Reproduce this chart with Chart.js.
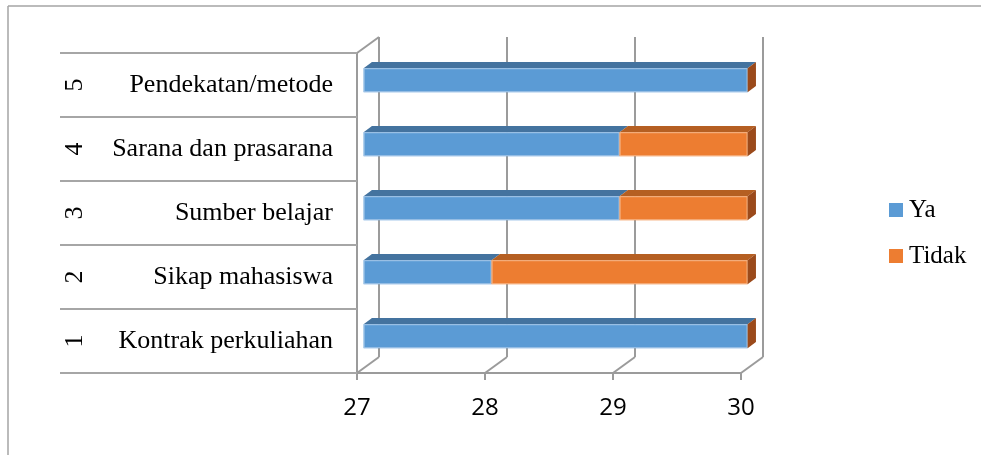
<!DOCTYPE html>
<html>
<head>
	<meta charset="utf-8">
	<title>Ya / Tidak</title>
	<style>
		body { margin: 0; background: #ffffff; }
		#wrap { width: 981px; height: 455px; position: relative; }
	</style>
</head>
<body>
	<div id="wrap">
		<canvas id="barChart" width="981" height="455"></canvas>
	</div>

	<script src="https://cdn.jsdelivr.net/npm/chart.js@4.4.0/dist/chart.umd.min.js"></script>
	<script type="text/javascript">
		// data, bottom row first (as in the sheet)
		const nomor = ['1', '2', '3', '4', '5'];
		const aspek = ['Kontrak perkuliahan', 'Sikap mahasiswa', 'Sumber belajar', 'Sarana dan prasarana', 'Pendekatan/metode'];
		const ya = [30, 28, 29, 29, 30];
		const tidak = [0, 2, 1, 1, 0];
		const xTicks = [27, 28, 29, 30];

		const serif = '"Liberation Serif", "DejaVu Serif", serif';
		const gray = '#9b9b9b';

		// 3d look: wall depth and where the bars sit in it
		const wallDx = 22, wallDy = -16;
		const barFront = 0.3, barBack = 0.68;

		const faces = [
			{ front: '#5b9bd5', top: '#44739f', side: '#3d6791', edge: '#a4c6e8' },
			{ front: '#ed7d31', top: '#b55f22', side: '#9b4a1b', edge: '#f5b587' }
		];

		function line(ctx, x1, y1, x2, y2, color, w) {
			ctx.beginPath();
			ctx.moveTo(x1, y1);
			ctx.lineTo(x2, y2);
			ctx.strokeStyle = color;
			ctx.lineWidth = w;
			ctx.stroke();
		}

		function poly(ctx, pts, color) {
			ctx.beginPath();
			ctx.moveTo(pts[0][0], pts[0][1]);
			for (let i = 1; i < pts.length; i++) ctx.lineTo(pts[i][0], pts[i][1]);
			ctx.closePath();
			ctx.fillStyle = color;
			ctx.fill();
		}

		const frame3d = {
			id: 'frame3d',
			beforeDatasetsDraw(chart) {
				const ctx = chart.ctx;
				const a = chart.chartArea;
				const xs = chart.scales.x;
				const ys = chart.scales.y;
				ctx.save();

				// outer frame (only top and left show)
				line(ctx, 8, 6, 981, 6, '#a5a5a5', 1.5);
				line(ctx, 8, 6, 8, 455, '#a5a5a5', 1.5);

				// back wall grid + floor diagonals
				xTicks.forEach(v => {
					const px = xs.getPixelForValue(v);
					line(ctx, px + wallDx, a.top + wallDy, px + wallDx, a.bottom + wallDy, gray, 2);
					line(ctx, px, a.bottom, px + wallDx, a.bottom + wallDy, gray, 2);
					line(ctx, px, a.bottom, px, a.bottom + 7, gray, 2);
				});
				// left wall
				line(ctx, a.left, a.top, a.left, a.bottom, gray, 2);
				line(ctx, a.left, a.top, a.left + wallDx, a.top + wallDy, gray, 2);
				// floor front edge
				line(ctx, a.left, a.bottom, a.right, a.bottom, gray, 2);

				// category rows and rotated numbers
				const step = Math.abs(ys.getPixelForValue(1) - ys.getPixelForValue(0));
				for (let i = 0; i < nomor.length; i++) {
					const cy = ys.getPixelForValue(i);
					line(ctx, 60, cy - step / 2, a.left, cy - step / 2, '#a6a6a6', 2);
					line(ctx, 60, cy + step / 2, a.left, cy + step / 2, '#a6a6a6', 2);
					ctx.save();
					ctx.translate(75, cy);
					ctx.rotate(-Math.PI / 2);
					ctx.font = '26px ' + serif;
					ctx.fillStyle = '#000000';
					ctx.textAlign = 'center';
					ctx.textBaseline = 'middle';
					ctx.fillText(nomor[i], 0, 0);
					ctx.restore();
				}

				// bars drawn as boxes from the bar elements
				const fx = wallDx * barFront, fy = wallDy * barFront;
				const bx = wallDx * barBack, by = wallDy * barBack;
				for (let i = 0; i < aspek.length; i++) {
					chart.data.datasets.forEach((ds, d) => {
						const el = chart.getDatasetMeta(d).data[i];
						const left = Math.max(Math.min(el.x, el.base), a.left);
						const right = Math.max(el.x, el.base);
						const top = el.y - el.height / 2;
						const bottom = el.y + el.height / 2;
						const f = faces[d];
						poly(ctx, [[left + fx, top + fy], [right + fx, top + fy], [right + bx, top + by], [left + bx, top + by]], f.top);
						if (right > left) {
							ctx.fillStyle = f.front;
							ctx.fillRect(left + fx, top + fy, right - left, bottom - top);
							ctx.strokeStyle = f.edge;
							ctx.lineWidth = 1;
							ctx.strokeRect(left + fx + 0.5, top + fy + 0.5, right - left - 1, bottom - top - 1);
						}
						if (d === chart.data.datasets.length - 1) {
							poly(ctx, [[right + fx, top + fy], [right + bx, top + by], [right + bx, bottom + by], [right + fx, bottom + fy]], f.side);
						}
					});
				}

				// legend
				ctx.font = '25px ' + serif;
				ctx.textBaseline = 'alphabetic';
				ctx.textAlign = 'left';
				chart.data.datasets.forEach((ds, d) => {
					const ly = 203 + d * 46;
					ctx.fillStyle = faces[d].front;
					ctx.fillRect(889, ly, 14, 14);
					ctx.fillStyle = '#000000';
					ctx.fillText(ds.label, 909, ly + 14);
				});

				ctx.restore();
				return false;
			}
		};

		const ctx = document.getElementById('barChart').getContext('2d');
		const chart = new Chart(ctx, {
			type: 'bar',
			data: {
				labels: aspek,
				datasets: [
					{ label: 'Ya', data: ya, backgroundColor: faces[0].front },
					{ label: 'Tidak', data: tidak, backgroundColor: faces[1].front }
				]
			},
			options: {
				indexAxis: 'y',
				responsive: false,
				animation: false,
				categoryPercentage: 1,
				barPercentage: 0.375,
				layout: { padding: { left: 10, top: 53, right: 240, bottom: 10 } },
				plugins: {
					legend: { display: false },
					tooltip: { enabled: false }
				},
				scales: {
					x: {
						stacked: true,
						min: 27,
						max: 30,
						grid: { display: false, drawTicks: false },
						border: { display: false },
						ticks: {
							stepSize: 1,
							padding: 21,
							color: '#000000',
							font: { family: '"Open Sans", "Liberation Sans", sans-serif', size: 24 }
						},
						afterFit(scale) { scale.height = 72; }
					},
					y: {
						stacked: true,
						reverse: true,
						grid: { display: false, drawTicks: false },
						border: { display: false },
						ticks: {
							padding: 24,
							color: '#000000',
							font: { family: serif, size: 26 }
						},
						afterFit(scale) { scale.width = 347; }
					}
				}
			},
			plugins: [frame3d]
		});
	</script>
</body>
</html>
